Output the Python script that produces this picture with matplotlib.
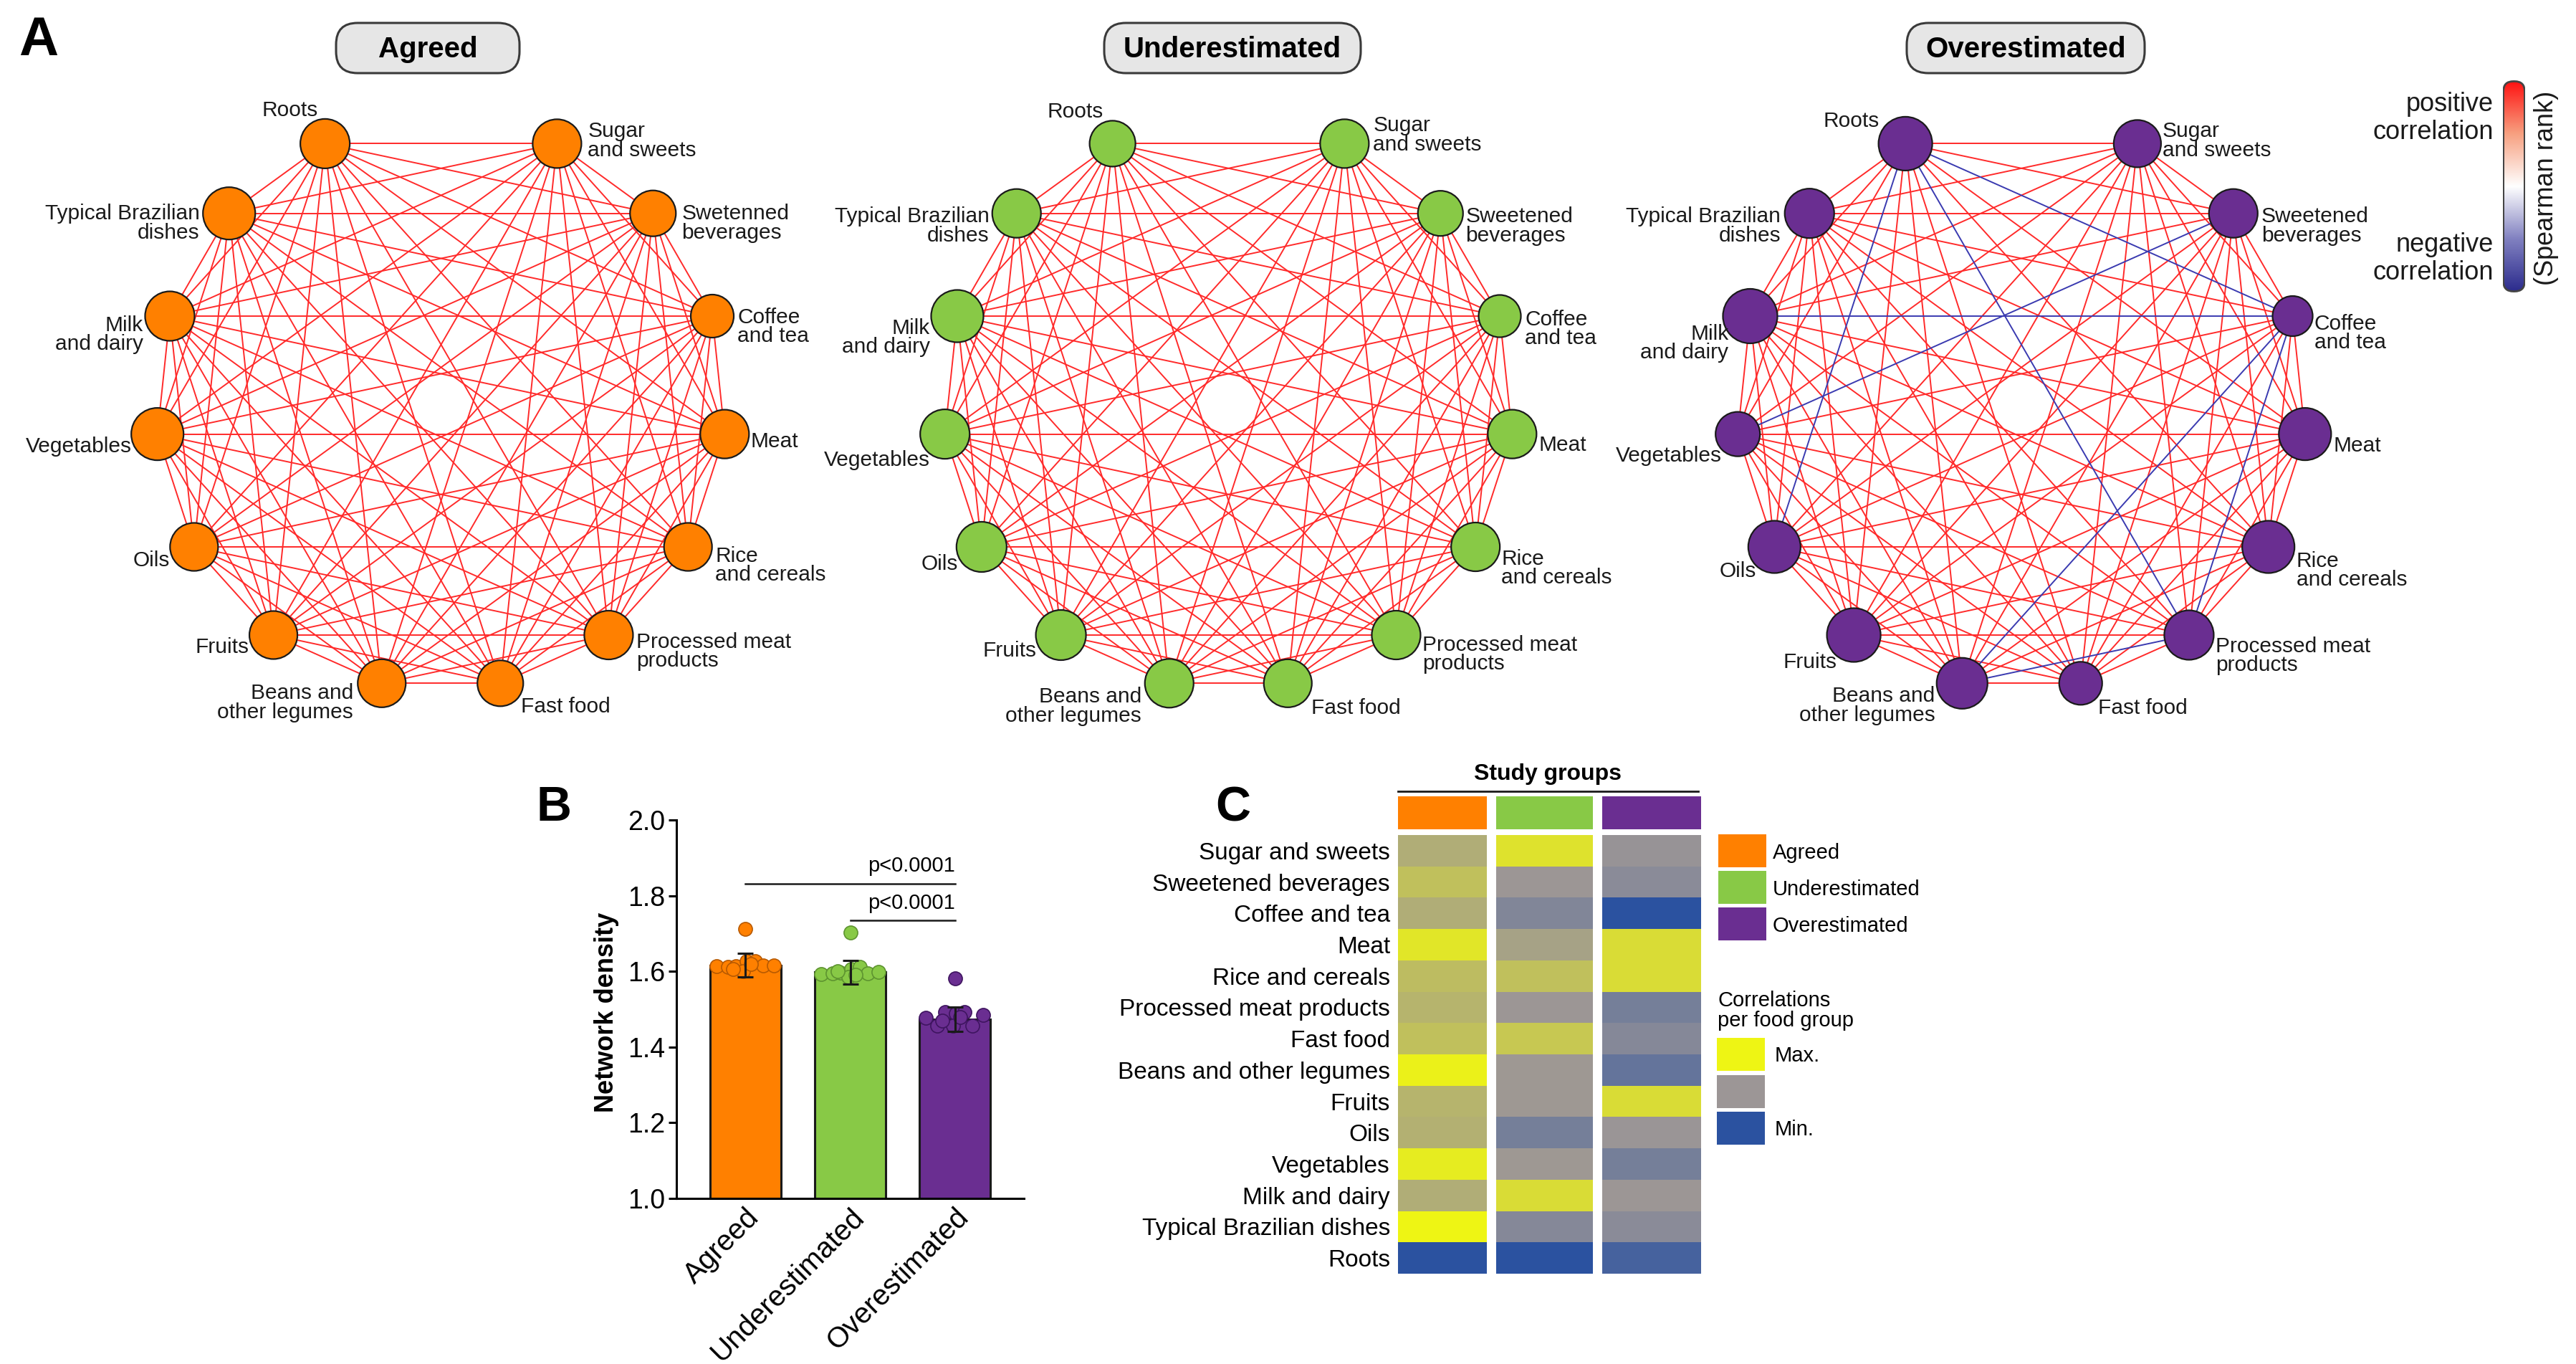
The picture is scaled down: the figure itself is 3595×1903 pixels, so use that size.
import numpy as np
import matplotlib
matplotlib.use('Agg')
import matplotlib.pyplot as plt
from matplotlib.patches import Circle, FancyBboxPatch, Rectangle
from matplotlib.collections import LineCollection
from matplotlib.colors import LinearSegmentedColormap
from matplotlib.transforms import ScaledTranslation

plt.rcParams['font.family'] = ['Liberation Sans', 'DejaVu Sans']

# ---------------- data ----------------
groups = ["Agreed", "Underestimated", "Overestimated"]
group_colors = ["#FF8000", "#88C946", "#6A2E91"]
dot_edge_colors = ["#B85A00", "#5E9430", "#3F1560"]

food_groups = ["Roots", "Sugar and sweets", "Sweetened beverages", "Coffee and tea", "Meat",
               "Rice and cereals", "Processed meat products", "Fast food",
               "Beans and other legumes", "Fruits", "Oils", "Vegetables",
               "Milk and dairy", "Typical Brazilian dishes"]

labels_agreed = ["Roots", "Sugar\nand sweets", "Swetenned\nbeverages", "Coffee\nand tea", "Meat",
                 "Rice\nand cereals", "Processed meat\nproducts", "Fast food",
                 "Beans and\nother legumes", "Fruits", "Oils", "Vegetables",
                 "Milk\nand dairy", "Typical Brazilian\ndishes"]
labels_other = ["Roots", "Sugar\nand sweets", "Sweetened\nbeverages", "Coffee\nand tea", "Meat",
                "Rice\nand cereals", "Processed meat\nproducts", "Fast food",
                "Beans and\nother legumes", "Fruits", "Oils", "Vegetables",
                "Milk\nand dairy", "Typical Brazilian\ndishes"]

# node diameters (network node size)
node_size_agreed = [69, 68, 64, 60, 68, 67, 68, 64, 67, 67, 67, 73, 69, 73]
node_size_under = [64, 68, 63, 59, 68, 68, 68, 67, 68, 70, 70, 69, 73, 68]
node_size_over = [75, 66, 68, 56, 73, 73, 69, 60, 71, 75, 73, 62, 76, 69]

# negative (blue) correlations in the Overestimated network; all other pairs positive
negative_edges_over = [("Roots", "Oils"), ("Roots", "Processed meat products"),
                       ("Roots", "Coffee and tea"), ("Milk and dairy", "Coffee and tea"),
                       ("Vegetables", "Sweetened beverages"),
                       ("Coffee and tea", "Beans and other legumes"),
                       ("Coffee and tea", "Processed meat products"),
                       ("Beans and other legumes", "Processed meat products")]

# panel B
density_mean = [1.616, 1.598, 1.474]
density_sd = [0.031, 0.031, 0.032]
points_agreed = [1.712, 1.613, 1.611, 1.613, 1.626, 1.626, 1.616, 1.616, 1.600, 1.606, 1.620]
points_under = [1.703, 1.592, 1.594, 1.596, 1.606, 1.611, 1.595, 1.599, 1.585, 1.600, 1.590]
points_over = [1.582, 1.477, 1.456, 1.492, 1.489, 1.492, 1.456, 1.485, 1.456, 1.470, 1.480]
p_text = ["p<0.0001", "p<0.0001"]
yticks_b = [1.0, 1.2, 1.4, 1.6, 1.8, 2.0]

# panel C
heat_rows = ["Sugar and sweets", "Sweetened beverages", "Coffee and tea", "Meat",
             "Rice and cereals", "Processed meat products", "Fast food",
             "Beans and other legumes", "Fruits", "Oils", "Vegetables",
             "Milk and dairy", "Typical Brazilian dishes", "Roots"]
heat_agreed = [0.62, 0.72, 0.62, 0.92, 0.70, 0.66, 0.72, 0.98, 0.66, 0.64, 0.95, 0.62, 1.00, 0.00]
heat_under = [0.90, 0.50, 0.38, 0.56, 0.72, 0.50, 0.76, 0.51, 0.51, 0.33, 0.51, 0.87, 0.40, 0.00]
heat_over = [0.48, 0.42, 0.00, 0.87, 0.87, 0.33, 0.40, 0.25, 0.87, 0.49, 0.33, 0.50, 0.42, 0.12]

# ---------------- layout ----------------
W, H = 3595, 1903
fig = plt.figure(figsize=(W / 100, H / 100), dpi=100)
canvas = fig.add_axes([0, 0, 1, 1])
canvas.set_xlim(0, W)
canvas.set_ylim(H, 0)
canvas.axis('off')

R = 398
centers = [(615.5, 564), (1714.5, 564), (2821, 564)]
slots = np.array([14, 1, 2, 3, 4, 5, 6, 7, 8, 9, 10, 11, 12, 13])
angles = np.deg2rad(90 - 24 * slots)

# label offsets (dx, dy, ha) per panel
lab_agreed = [(-10, -46, 'right'), (43, -4, 'left'), (40, 14, 'left'), (35, 15, 'left'),
              (36, 10, 'left'), (38, 26, 'left'), (39, 23, 'left'), (29, 33, 'left'),
              (-40, 27, 'right'), (-34, 17, 'right'), (-34, 19, 'right'), (-36, 17, 'right'),
              (-37, 26, 'right'), (-41, 14, 'right')]
lab_under = [(-13, -44, 'right'), (40, -12, 'left'), (35, 18, 'left'), (35, 18, 'left'),
             (37, 15, 'left'), (36, 30, 'left'), (37, 27, 'left'), (33, 35, 'left'),
             (-39, 32, 'right'), (-34, 22, 'right'), (-33, 24, 'right'), (-21, 36, 'right'),
             (-38, 30, 'right'), (-38, 18, 'right')]
lab_over = [(-36, -31, 'right'), (35, -4, 'left'), (39, 18, 'left'), (30, 24, 'left'),
            (40, 16, 'left'), (39, 33, 'left'), (37, 29, 'left'), (24, 35, 'left'),
            (-38, 31, 'right'), (-24, 38, 'right'), (-25, 34, 'right'), (-22, 30, 'right'),
            (-30, 38, 'right'), (-40, 18, 'right')]

panels = [
    (labels_agreed, node_size_agreed, [], lab_agreed),
    (labels_other, node_size_under, [], lab_under),
    (labels_other, node_size_over, negative_edges_over, lab_over),
]

pos_color = "#FF2A2A"
neg_color = "#3A3AB0"
idx = {n: i for i, n in enumerate(food_groups)}

for p, (labs, sizes, negs, labpos) in enumerate(panels):
    cx, cy = centers[p]
    xs = cx + R * np.cos(angles)
    ys = cy - R * np.sin(angles)
    neg_set = {frozenset((idx[a], idx[b])) for a, b in negs}
    segs, cols = [], []
    for i in range(len(food_groups)):
        for j in range(i + 1, len(food_groups)):
            segs.append([(xs[i], ys[i]), (xs[j], ys[j])])
            cols.append(neg_color if frozenset((i, j)) in neg_set else pos_color)
    order = np.argsort([c == neg_color for c in cols])
    lc = LineCollection([segs[k] for k in order], colors=[cols[k] for k in order],
                        linewidths=1.4, zorder=1)
    canvas.add_collection(lc)
    for i in range(len(food_groups)):
        canvas.add_patch(Circle((xs[i], ys[i]), sizes[i] / 2, facecolor=group_colors[p],
                                edgecolor="#1a1a1a", linewidth=1.6, zorder=3))
        dx, dy, ha = labpos[i]
        canvas.text(xs[i] + dx, ys[i] + dy, labs[i], ha=ha, va='center', fontsize=21.5,
                    linespacing=0.93, color="#1a1a1a", zorder=4)

# titles
title_boxes = [(597, 67, 256), (1720, 67, 358), (2827, 67, 332)]
for (tx, ty, tw), g in zip(title_boxes, groups):
    canvas.add_patch(FancyBboxPatch((tx - tw / 2, ty - 35), tw, 70,
                                    boxstyle="round,pad=0,rounding_size=30",
                                    facecolor="#E6E6E6", edgecolor="#3a3a3a", linewidth=2.2,
                                    zorder=2))
    canvas.text(tx, ty + 2, g, ha='center', va='center', fontsize=29, fontweight='bold',
                zorder=3)

# panel letters
canvas.text(26, 77, "A", fontsize=55, fontweight='bold', ha='left', va='baseline')
canvas.text(748, 1145, "B", fontsize=49, fontweight='bold', ha='left', va='baseline')
canvas.text(1696, 1145, "C", fontsize=49, fontweight='bold', ha='left', va='baseline')

# colorbar legend for correlations
cb_ax = fig.add_axes([3493 / W, (H - 408) / H, 31 / W, 296 / H])
cb_cmap = LinearSegmentedColormap.from_list(
    "corr", ["#2A2A8C", "#8080C0", "#FFFFFF", "#F7A080", "#FF1010"])
grad = np.linspace(0, 1, 256).reshape(-1, 1)
im = cb_ax.imshow(grad, cmap=cb_cmap, aspect='auto', origin='lower', extent=[0, 1, 0, 1])
frame = FancyBboxPatch((0.02, 0.005), 0.96, 0.99, boxstyle="round,pad=0,rounding_size=0.45",
                       mutation_aspect=0.105, transform=cb_ax.transAxes,
                       facecolor='none', edgecolor="#444444", linewidth=2.0, zorder=3)
cb_ax.add_patch(frame)
im.set_clip_path(frame)
cb_ax.set_xlim(0, 1)
cb_ax.set_ylim(0, 1)
cb_ax.axis('off')
canvas.text(3480, 165, "positive\ncorrelation", ha='right', va='center', fontsize=26,
            linespacing=1.15, color="#1a1a1a")
canvas.text(3480, 361, "negative\ncorrelation", ha='right', va='center', fontsize=26,
            linespacing=1.15, color="#1a1a1a")
canvas.text(3553, 262, "(Spearman rank)", ha='center', va='center', rotation=90,
            fontsize=26, color="#1a1a1a")

# ---------------- panel B ----------------
axb = fig.add_axes([944 / W, (H - 1672) / H, (1429 - 944) / W, (1672 - 1144) / H])
xb = np.arange(3)
axb.bar(xb, np.array(density_mean) - 1.0, bottom=1.0, width=0.68, color=group_colors,
        edgecolor="#1a1a1a", linewidth=2.2, zorder=1)
offsets = [0.0, -0.28, -0.17, -0.09, 0.01, 0.09, 0.17, 0.27, -0.02, -0.12, 0.05]
for k, pts in enumerate([points_agreed, points_under, points_over]):
    axb.scatter(xb[k] + np.array(offsets[:len(pts)]), pts, s=190, color=group_colors[k],
                edgecolor=dot_edge_colors[k], linewidth=1.2, zorder=2, clip_on=False)
axb.errorbar(xb, density_mean, yerr=density_sd, fmt='none', ecolor="#1a1a1a",
             elinewidth=2.2, capsize=8, capthick=2.2, zorder=3)
axb.plot([0, 2], [1.832, 1.832], color="#1a1a1a", lw=1.8, clip_on=False)
axb.plot([1, 2], [1.734, 1.734], color="#1a1a1a", lw=1.8, clip_on=False)
axb.text(2, 1.852, p_text[0], ha='right', va='bottom', fontsize=21)
axb.text(2, 1.754, p_text[1], ha='right', va='bottom', fontsize=21)
axb.set_ylim(1.0, 2.0)
axb.set_xlim(-0.66, 2.66)
axb.set_yticks(yticks_b)
axb.set_yticklabels([f"{v:.1f}" for v in yticks_b], fontsize=27)
axb.set_xticks(xb)
axb.set_xticklabels(groups, fontsize=29, rotation=45, ha='right', va='top',
                    rotation_mode='anchor')
shift = ScaledTranslation(15 / 100, 0, fig.dpi_scale_trans)
for lab in axb.get_xticklabels():
    lab.set_transform(lab.get_transform() + shift)
axb.tick_params(axis='y', length=8, width=2.2, pad=3)
axb.tick_params(axis='x', length=0, pad=5)
for s in ['top', 'right']:
    axb.spines[s].set_visible(False)
for s in ['left', 'bottom']:
    axb.spines[s].set_linewidth(2.2)
canvas.text(846, 1412, "Network density", rotation=90, ha='center', va='center',
            fontsize=26, fontweight='bold')

# ---------------- panel C ----------------
heat_cmap = LinearSegmentedColormap.from_list("corr_fg", ["#2B52A0", "#9C9696", "#EEF514"])
col_edges = [(1951, 2075), (2088, 2223), (2236, 2374)]
axc = fig.add_axes([1951 / W, (H - 1777) / H, (2374 - 1951) / W, (1777 - 1111) / H])
row_h = (1777 - 1165) / len(heat_rows)
strip_top = -(1165 - 1111) / row_h
strip_bot = -(1165 - 1157) / row_h
for j, vals in enumerate([heat_agreed, heat_under, heat_over]):
    x0, x1 = col_edges[j]
    axc.pcolormesh([x0, x1], np.arange(len(heat_rows) + 1), np.array(vals).reshape(-1, 1),
                   cmap=heat_cmap, vmin=0, vmax=1, shading='flat')
    axc.add_patch(Rectangle((x0, strip_top), x1 - x0, strip_bot - strip_top,
                            facecolor=group_colors[j], edgecolor='none'))
axc.set_xlim(1951, 2374)
axc.set_ylim(len(heat_rows), strip_top)
axc.set_yticks(np.arange(len(heat_rows)) + 0.5)
axc.set_yticklabels(heat_rows, fontsize=24)
axc.tick_params(axis='y', length=0, pad=8)
axc.set_xticks([])
for s in axc.spines.values():
    s.set_visible(False)

canvas.text(2160, 1080, "Study groups", ha='center', va='center', fontsize=23,
            fontweight='bold')
canvas.plot([1951, 2370], [1104, 1104], color="#1a1a1a", lw=2)

# legends for panel C
leg_y = [1164, 1215, 1266]
for g, c, y in zip(groups, group_colors, leg_y):
    canvas.add_patch(Rectangle((2398, y), 67, 46, facecolor=c, edgecolor='none'))
    canvas.text(2474, y + 26, g, ha='left', va='center', fontsize=21)
canvas.text(2397, 1410, "Correlations\nper food group", ha='left', va='center', fontsize=21,
            linespacing=1.0)
scale_cols = ["#EEF514", "#9C9696", "#2B52A0"]
scale_txt = ["Max.", "", "Min."]
for k, (c, t) in enumerate(zip(scale_cols, scale_txt)):
    y = 1448 + k * 51.5
    canvas.add_patch(Rectangle((2396, y), 67, 46, facecolor=c, edgecolor='none'))
    canvas.text(2477, y + 25, t, ha='left', va='center', fontsize=21)

fig.savefig("out.png", dpi=100)
